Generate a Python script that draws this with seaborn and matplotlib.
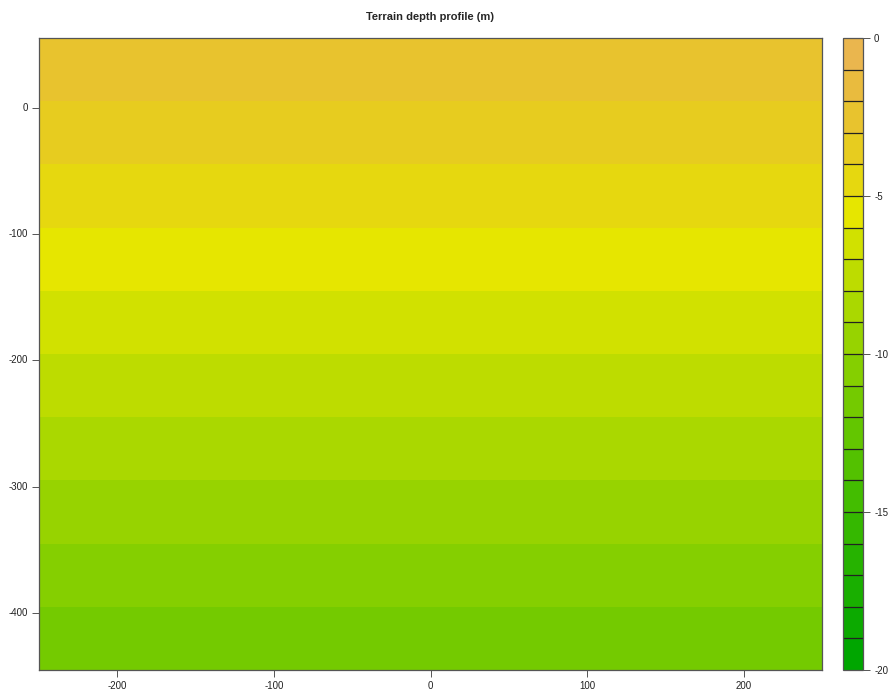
import colorsys

import matplotlib
matplotlib.use("Agg")
import matplotlib.pyplot as plt
from matplotlib.colors import BoundaryNorm, ListedColormap
from matplotlib.ticker import NullLocator
import numpy as np
import pandas as pd
import seaborn as sns

# Grid cell centres (m) and the depth of each horizontal layer (m)
x_centers = [-225, -175, -125, -75, -25, 25, 75, 125, 175, 225]
y_centers = [30, -20, -70, -120, -170, -220, -270, -320, -370, -420]
depth_by_row = [-2.5, -3.5, -4.5, -5.5, -6.5, -7.5, -8.5, -9.5, -10.5, -11.5]

# Colour key
level_edges = list(range(-20, 1))
key_ticks = [-20, -15, -10, -5, 0]
x_ticks = [-200, -100, 0, 100, 200]
y_ticks = [0, -100, -200, -300, -400]

CELL = 50


def terrain_colors(n):
    """Green -> yellow -> tan ramp in HSV space."""
    k = n // 2
    h = np.concatenate([np.linspace(4 / 12, 2 / 12, k),
                        np.linspace(2 / 12, 0, n - k + 1)[1:]])
    s = np.concatenate([np.linspace(1, 1, k), np.linspace(1, 0, n - k + 1)[1:]])
    v = np.concatenate([np.linspace(0.65, 0.9, k),
                        np.linspace(0.9, 0.95, n - k + 1)[1:]])
    return [colorsys.hsv_to_rgb(a, b, c) for a, b, c in zip(h, s, v)]


n_levels = len(level_edges) - 1
cmap = ListedColormap(terrain_colors(30)[:n_levels])
norm = BoundaryNorm(level_edges, ncolors=n_levels)

grid = pd.DataFrame(
    np.repeat(np.array(depth_by_row)[:, None], len(x_centers), axis=1),
    index=y_centers, columns=x_centers,
)

sns.set_style("ticks")
plt.rcParams["font.family"] = ["Liberation Sans", "DejaVu Sans"]
plt.rcParams["axes.unicode_minus"] = False

fig = plt.figure(figsize=(8.88, 6.95), dpi=100)
ax = fig.add_axes([39 / 888, 25 / 695, 783 / 888, 632 / 695])
cax = fig.add_axes([843 / 888, 25 / 695, 20 / 888, 632 / 695])

sns.heatmap(grid, ax=ax, cbar_ax=cax, cmap=cmap, norm=norm,
            cbar_kws={"ticks": key_ticks, "drawedges": True})

# heatmap axes run in cell units: convert real coordinates to them
x0 = x_centers[0] - CELL / 2
y_top = y_centers[0] + CELL / 2
ax.set_xticks([(v - x0) / CELL for v in x_ticks])
ax.set_xticklabels([str(v) for v in x_ticks], rotation=0)
ax.set_yticks([(y_top - v) / CELL for v in y_ticks])
ax.set_yticklabels([str(v) for v in y_ticks], rotation=0)
ax.set_xlabel("")
ax.set_ylabel("")

for s in ax.spines.values():
    s.set_visible(True)
    s.set_color("#555555")
    s.set_linewidth(0.9)
ax.tick_params(axis="both", length=5, width=0.7, color="#555555",
               labelsize=7, labelcolor="#222222", pad=3)

cb = ax.collections[0].colorbar
cb.outline.set_linewidth(0.9)
cb.outline.set_edgecolor("#555555")
cb.dividers.set_color("#222222")
cb.dividers.set_linewidth(0.9)
cb.ax.yaxis.set_minor_locator(NullLocator())
cb.ax.minorticks_off()
cb.ax.set_yticks(key_ticks)
cb.ax.set_yticklabels([str(v) for v in key_ticks])
cb.ax.tick_params(length=5, width=0.7, color="#555555", labelsize=7,
                  labelcolor="#222222", pad=3)

fig.text(430 / 888, 1 - 17 / 695, "Terrain depth profile (m)",
         ha="center", va="center", fontsize=8, fontweight="bold")

fig.savefig("out.png", dpi=100)
